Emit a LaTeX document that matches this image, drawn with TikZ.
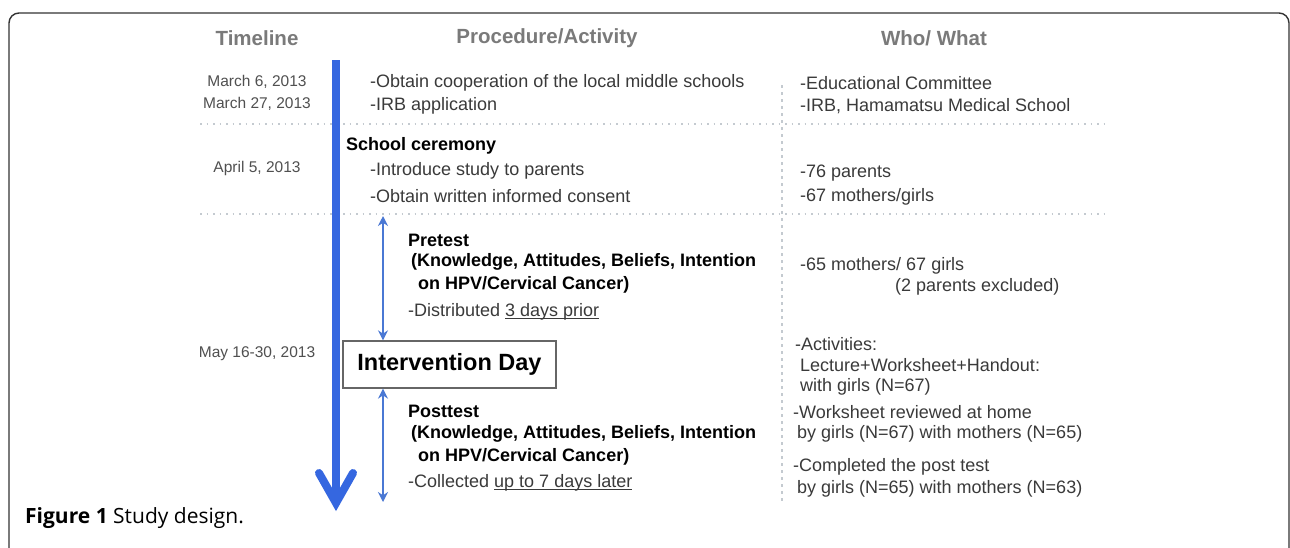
\documentclass[tikz,border=0pt]{standalone}
\usepackage{fontspec}
\setmainfont{Liberation Sans}
\newfontfamily\capfont{Open Sans}
\usetikzlibrary{arrows.meta}
\definecolor{txt}{HTML}{3A3A3A}
\definecolor{hdr}{HTML}{7A7A7A}
\definecolor{dte}{HTML}{505050}
\definecolor{tlblue}{HTML}{3567E0}
\definecolor{smblue}{HTML}{4A78D4}
\definecolor{dotgray}{HTML}{C4CAD0}
\definecolor{frm}{HTML}{333333}
\newcommand\ulx[1]{\leavevmode\setbox0\hbox{#1}\dp0=0pt\vtop{\box0\kern2pt\hrule height0.9pt}}
\tikzset{
  hdrtext/.style={font=\fontsize{20.5}{23}\selectfont\bfseries, text=hdr, inner sep=0pt},
  datetext/.style={font=\fontsize{15.5}{18}\selectfont, text=dte, inner sep=0pt},
  bodytext/.style={font=\fontsize{18}{20}\selectfont, text=txt, inner sep=0pt, anchor=west},
  boldtext/.style={font=\fontsize{18}{20}\selectfont\bfseries, text=black, inner sep=0pt, anchor=west},
  sep/.style={dotgray, line width=2.5pt, dash pattern=on 1.5pt off 5pt},
  vsep/.style={dotgray, line width=1.8pt, dash pattern=on 3pt off 4pt},
  smallarrow/.style={smblue, line width=1.8pt, {Stealth[length=10pt,width=10pt]}-{Stealth[length=10pt,width=10pt]}},
  daybox/.style={draw=gray!80!black, line width=1.3pt, minimum width=213pt, minimum height=47pt, font=\fontsize{23.5}{26}\selectfont\bfseries, text=black, inner sep=0pt}
}
\begin{document}
\begin{tikzpicture}[x=1pt,y=-1pt]
\useasboundingbox (0,0) rectangle (1290,547);
\fill[white] (0,0) rectangle (1290,547);
% frame
\draw[frm, line width=1.4pt, rounded corners=10pt] (9,560) -- (9,13) -- (1289,13) -- (1289,560);
% headers
\node[hdrtext] (hTime) at (257,38) {Timeline};
\node[hdrtext] (hProc) at (547,38) {Procedure/Activity};
\node[hdrtext] (hWho) at (934,38) {Who/ What};
% dotted separators
\coordinate (s1a) at (200,124); \coordinate (s1b) at (1105,124);
\coordinate (s2a) at (200,214); \coordinate (s2b) at (1105,214);
\coordinate (vsa) at (782,85); \coordinate (vsb) at (782,502);
\draw[sep] (s1a) -- (s1b);
\draw[sep] (s2a) -- (s2b);
\draw[vsep] (vsa) -- (vsb);
% timeline arrow
\coordinate (tlTop) at (336,60);
\coordinate (tlBot) at (336,500);
\coordinate (tlTip) at (336,503);
\coordinate (tlL) at (319,473);
\coordinate (tlR) at (353,473);
\draw[tlblue, line width=7.5pt] (tlTop) -- (tlBot);
\draw[tlblue, line width=8pt, line join=miter, line cap=round] (tlL) -- (tlTip) -- (tlR);
% dates
\node[datetext] (d1) at (257,82) {March 6, 2013};
\node[datetext] (d2) at (257,104) {March 27, 2013};
\node[datetext] (d3) at (257,168) {April 5, 2013};
\node[datetext] (d4) at (257,354) {May 16-30, 2013};
% procedure column
\node[bodytext] (p1) at (370,83) {-Obtain cooperation of the local middle schools};
\node[bodytext] (p2) at (370,106) {-IRB application};
\node[boldtext] (p3) at (346,146) {School ceremony};
\node[bodytext] (p4) at (370,171) {-Introduce study to parents};
\node[bodytext] (p5) at (370,196) {-Obtain written informed consent};
\node[boldtext] (pre1) at (408,240) {Pretest};
\node[boldtext] (pre2) at (411,262) {(Knowledge, Attitudes, Beliefs, Intention};
\node[boldtext] (pre3) at (418,285) {on HPV/Cervical Cancer)};
\node[bodytext] (pre4) at (408,311) {-Distributed \ulx{3 days prior}};
\node[daybox] (iday) at (449.5,364.5) {Intervention Day};
\node[boldtext] (post1) at (408,411) {Posttest};
\node[boldtext] (post2) at (411,434) {(Knowledge, Attitudes, Beliefs, Intention};
\node[boldtext] (post3) at (418,457) {on HPV/Cervical Cancer)};
\node[bodytext] (post4) at (408,482) {-Collected \ulx{up to 7 days later}};
% small arrows
\coordinate (preTop) at (383,216);
\coordinate (postBot) at (383,502);
\draw[smallarrow] (preTop) -- (iday.north -| preTop);
\draw[smallarrow] (iday.south -| postBot) -- (postBot);
% who/what column
\node[bodytext] (w1) at (800,83) {-Educational Committee};
\node[bodytext] (w2) at (800,106) {-IRB, Hamamatsu Medical School};
\node[bodytext] (w3) at (800,173) {-76 parents};
\node[bodytext] (w4) at (800,197) {-67 mothers/girls};
\node[bodytext] (w5) at (800,266) {-65 mothers/ 67 girls};
\node[bodytext] (w6) at (895,287) {(2 parents excluded)};
\node[bodytext] (w7) at (795,344) {-Activities:};
\node[bodytext] (w8) at (800,365) {Lecture+Worksheet+Handout:};
\node[bodytext] (w9) at (800,387) {with girls (N=67)};
\node[bodytext] (w10) at (793,412) {-Worksheet reviewed at home};
\node[bodytext] (w11) at (797,434) {by girls (N=67) with mothers (N=65)};
\node[bodytext] (w12) at (793,467) {-Completed the post test};
\node[bodytext] (w13) at (797,489) {by girls (N=65) with mothers (N=63)};
% caption
\node[anchor=west, inner sep=0pt, font=\capfont\fontsize{21}{24}\selectfont, text=black] (cap) at (25,518) {\textbf{Figure 1} Study design.};
\end{tikzpicture}
\end{document}
